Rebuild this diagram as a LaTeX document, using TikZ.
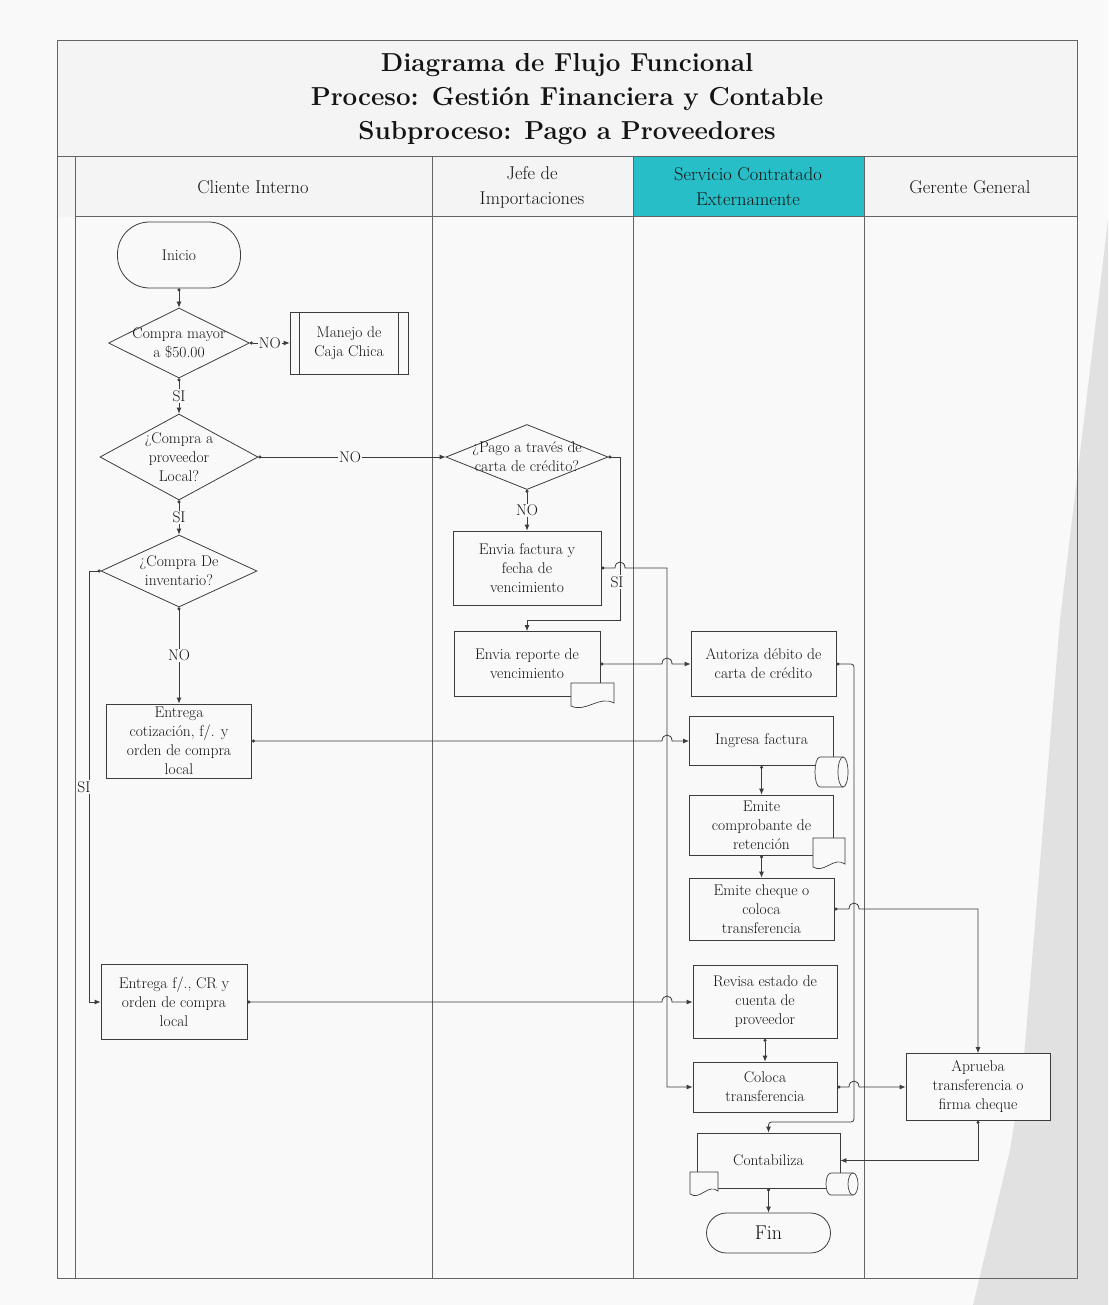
\documentclass[tikz,border=0pt]{standalone}
\usetikzlibrary{arrows.meta,shapes.geometric,calc}
\definecolor{ln}{RGB}{60,60,60}
\definecolor{lane}{RGB}{100,100,100}
\definecolor{cyanhd}{RGB}{40,190,200}
\definecolor{bgg}{RGB}{225,225,225}
\definecolor{pg}{RGB}{249,249,249}
\definecolor{hd}{RGB}{244,244,244}
\newcommand\docsym[4]{\draw[symb] (#1,#2) -- (#3,#2) -- (#3,#4-5) .. controls ({#3-0.35*(#3-#1)},#4-13) and ({#3-0.65*(#3-#1)},#4+5) .. (#1,#4-2) -- cycle;}
\newcommand\cylsym[4]{\draw[symb] ({#1+5},#2) -- ({#3-5},#2) -- ({#3-5},#4) -- ({#1+5},#4) .. controls ({#1-1.67},#4) and ({#1-1.67},#2) .. ({#1+5},#2) -- cycle;
  \draw[symb] ({#3-5},{(#2+#4)/2}) ellipse [x radius=5, y radius={(#4-#2)/2}];}
\begin{document}
\begin{tikzpicture}[x=1pt,y=-1pt,
  every node/.style={font=\fontsize{15.5}{19}\selectfont, text=black!92},
  box/.style={draw=ln, fill=pg, line width=0.8pt, align=center, inner xsep=2pt, inner ysep=0pt},
  dia/.style={diamond, draw=ln, fill=pg, line width=0.8pt, inner sep=0pt},
  dtxt/.style={align=center, inner sep=0pt},
  term/.style={draw=ln, fill=pg, line width=0.8pt, align=center},
  symb/.style={draw=ln, fill=pg, line width=0.7pt},
  lbl/.style={fill=pg, inner sep=1pt},
  hdr/.style={font=\fontsize{18.5}{25}\selectfont, align=center},
  conn/.style={draw=ln, line width=0.8pt, {Circle[length=3pt]}-{Latex[length=6pt,width=5pt]}},
  lanel/.style={draw=lane, line width=1pt}
]
\useasboundingbox (0,0) rectangle (1108,1305);
\fill[pg] (0,0) rectangle (1108,1305);
\fill[bgg] (1108,220) -- (1060,620) -- (1023,1070) -- (1010,1150) -- (973,1305) -- (1108,1305) -- cycle;

% frame and lanes
\fill[hd] (57,41) rectangle (1077,217);
\fill[cyanhd] (633,157) rectangle (864,217);
\draw[lanel] (57,41) rectangle (1077,1278);
\draw[lanel] (57,157) -- (1077,157);
\draw[lanel] (75,217) -- (1077,217);
\draw[lanel] (75,157) -- (75,1278);
\draw[lanel] (432,157) -- (432,1278);
\draw[lanel] (633,157) -- (633,1278);
\draw[lanel] (864,157) -- (864,1278);

\node[font=\bfseries\fontsize{26}{34}\selectfont, align=center] (title) at (567,99)
  {Diagrama de Flujo Funcional\\Proceso: Gestión Financiera y Contable\\Subproceso: Pago a Proveedores};
\node[hdr] (h1) at (253,187) {Cliente Interno};
\node[hdr] (h2) at (532,187) {Jefe de\\Importaciones};
\node[hdr] (h3) at (748,187) {Servicio Contratado\\Externamente};
\node[hdr] (h4) at (970,187) {Gerente General};

% Cliente Interno
\node[term, rounded corners=32pt, minimum width=123, minimum height=66] (inicio) at (179,255) {Inicio};
\node[dia, minimum width=141, minimum height=70] (q1) at (179,343) {};
\node[dtxt] (q1t) at (179,343) {Compra mayor\\a \$50.00};
\node[box, minimum width=118, minimum height=62] (manejo) at (349,343) {Manejo de\\Caja Chica};
\draw[draw=ln, line width=0.7pt] ([xshift=10pt]manejo.north west) -- ([xshift=10pt]manejo.south west);
\draw[draw=ln, line width=0.7pt] ([xshift=-10pt]manejo.north east) -- ([xshift=-10pt]manejo.south east);
\node[dia, minimum width=158, minimum height=86] (q2) at (179,457) {};
\node[dtxt] (q2t) at (179,457) {¿Compra a\\proveedor\\Local?};
\node[dia, minimum width=156, minimum height=72] (q3) at (179,571) {};
\node[dtxt] (q3t) at (179,571) {¿Compra De\\inventario?};
\node[box, minimum width=145, minimum height=74] (cot) at (179,741) {Entrega\\cotización, f/. y\\orden de compra\\local};
\node[box, minimum width=146, minimum height=75] (ecr) at (174,1002) {Entrega f/., CR y\\orden de compra\\local};

% Jefe de Importaciones
\node[dia, minimum width=162, minimum height=65] (q4) at (527,457) {};
\node[dtxt] (q4t) at (527,457) {¿Pago a través de\\carta de crédito?};
\node[box, minimum width=148, minimum height=74] (fac) at (527,568) {Envia factura y\\fecha de\\vencimiento};
\node[box, minimum width=146, minimum height=65] (rep) at (527,664) {Envia reporte de\\vencimiento};
\docsym{571}{683}{614}{708}

% Servicio
\node[box, minimum width=145, minimum height=65] (aut) at (763.5,664) {Autoriza débito de\\carta de crédito};
\node[box, minimum width=144, minimum height=49] (ing) at (761.5,741) {Ingresa factura};
\cylsym{815}{757}{848}{787}
\node[box, minimum width=144, minimum height=60] (com) at (761.5,825) {Emite\\comprobante de\\retención};
\docsym{813}{838}{845}{869}
\node[box, minimum width=145, minimum height=62] (che) at (761.5,909) {Emite cheque o\\coloca\\transferencia};
\node[box, minimum width=144, minimum height=73] (rev) at (765,1002) {Revisa estado de\\cuenta de\\proveedor};
\node[box, minimum width=144, minimum height=50] (col) at (765,1087) {Coloca\\transferencia};
\node[box, minimum width=143, minimum height=55] (con) at (768.5,1160.5) {Contabiliza};
\docsym{690}{1172}{718}{1196}
\cylsym{826}{1173}{858}{1195}
\node[term, rounded corners=20pt, minimum width=124, minimum height=40, font=\fontsize{20}{24}\selectfont] (fin) at (768.5,1233) {Fin};

% Gerente
\node[box, minimum width=144, minimum height=67] (apr) at (978,1087) {Aprueba\\transferencia o\\firma cheque};

% connectors
\draw[conn] (inicio.south) -- (q1.north);
\draw[conn] (q1.east) -- node[lbl] (noA) {NO} (manejo.west);
\draw[conn] (q1.south) -- node[lbl] (siA) {SI} (q2.north);
\draw[conn] (q2.east) -- node[lbl, pos=0.49] (noB) {NO} (q4.west);
\draw[conn] (q2.south) -- node[lbl] (siC) {SI} (q3.north);
\draw[conn] (q3.south) -- node[lbl, pos=0.5] (noC) {NO} (cot.north);
\draw[conn] (q3.west) -| (89,1002) -- (ecr.west);
\node[lbl] (siD) at (84,787) {SI};
\draw[conn] (q4.south) -- node[lbl] (noD) {NO} (fac.north);
\draw[conn] (q4.east) -| (620,620) -| (rep.north);
\node[lbl] (siB) at (617,582) {SI};
\draw[conn] (fac.east) -- (615,568) .. controls (615,560) and (625,560) .. (625,568) -| (667,1087) -- (col.west);
\draw[conn] (rep.east) -- (662,664) .. controls (662,656) and (672,656) .. (672,664) -- (aut.west);
\draw[conn] (cot.east) -- (662,741) .. controls (662,733) and (672,733) .. (672,741) -- (ing.west);
\draw[conn] (ecr.east) -- (662,1002) .. controls (662,994) and (672,994) .. (672,1002) -- (rev.west);
\draw[conn] (ing.south) -- (com.north);
\draw[conn] (com.south) -- (che.north);
\draw[conn] (che.east) -- (849,909) .. controls (849,901) and (859,901) .. (859,909) -| (apr.north);
\draw[conn] (rev.south) -- (col.north);
\draw[conn] (col.east) -- (849,1087) .. controls (849,1079) and (859,1079) .. (859,1087) -- (apr.west);
\draw[conn, rounded corners=3pt] (aut.east) -| (854,1122) -| (con.north);
\draw[conn] (apr.south) |- (con.east);
\draw[conn] (con.south) -- (fin.north);
\end{tikzpicture}
\end{document}
